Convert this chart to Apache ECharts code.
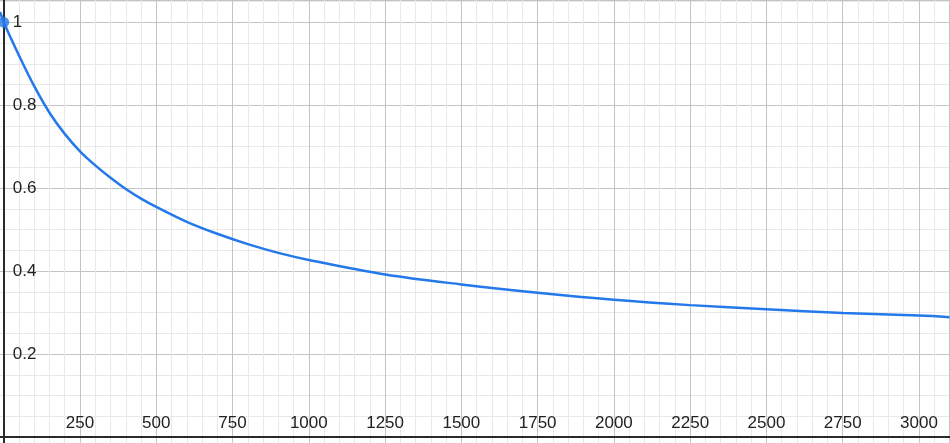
<!DOCTYPE html>
<html>
<head>
<meta charset="utf-8">
<script src="https://cdn.jsdelivr.net/npm/echarts@6/dist/echarts.min.js"></script>
<style>
html,body{margin:0;padding:0;background:#fff;}
#chart{width:950px;height:443px;}
</style>
</head>
<body>
<div id="chart"></div>
<script>
// Values
var xValues = [-12, 0, 50, 100, 150, 200, 250, 300, 350, 400, 450, 500, 600, 700, 800, 900, 1000, 1250, 1500, 1750, 2000, 2250, 2500, 2750, 3000, 3100];
var yValues = [1.025, 1.0, 0.92, 0.846, 0.782, 0.731, 0.689, 0.655, 0.625, 0.598, 0.575, 0.555, 0.519, 0.490, 0.465, 0.444, 0.427, 0.392, 0.368, 0.348, 0.331, 0.318, 0.308, 0.299, 0.293, 0.289];
var markedPoint = [0, 1];
var xTickStep = 250;
var yTickStep = 0.2;

var lineData = xValues.map(function (x, i) { return [x, yValues[i]]; });

// pixel geometry of the plotting frame
var pxPerX = 0.30509, x0px = 3.73;
var pxPerY = 414.7, y0px = 437;
var xMin = -250, xMax = 3100;
var yMin = -0.2, yMax = y0px / pxPerY;

var chart = echarts.init(document.getElementById('chart'), null, {renderer: 'canvas'});
var font = 'Liberation Sans, Arial, sans-serif';
chart.setOption({
  animation: false,
  backgroundColor: '#ffffff',
  grid: [
    {
      left: x0px + xMin * pxPerX,
      width: (xMax - xMin) * pxPerX,
      top: 0,
      height: (yMax - yMin) * pxPerY,
      containLabel: false,
      outerBoundsMode: 'none'
    },
    {
      left: x0px,
      width: xMax * pxPerX,
      top: 0,
      height: y0px,
      containLabel: false,
      outerBoundsMode: 'none'
    }
  ],
  xAxis: [
    {
      type: 'value', gridIndex: 0,
      min: xMin, max: xMax, interval: xTickStep,
      axisLine: {show: true, onZero: true, lineStyle: {color: '#2a2a2a', width: 2}},
      axisTick: {show: false},
      axisLabel: {show: false},
      splitLine: {show: true, lineStyle: {color: '#c4c4c4', width: 1}},
      minorTick: {show: false, splitNumber: 5},
      minorSplitLine: {show: true, lineStyle: {color: '#e9e9e9', width: 1}}
    },
    {
      type: 'value', gridIndex: 1,
      min: 0, max: xMax, interval: xTickStep,
      axisLine: {show: false, onZero: false},
      axisTick: {show: false},
      splitLine: {show: false},
      axisLabel: {
        inside: true, margin: 5, fontSize: 17, color: '#222', fontFamily: font,
        showMinLabel: false, showMaxLabel: false,
        formatter: function (v) { return (v <= 0 || Math.round(v) % 250 !== 0) ? '' : String(Math.round(v)); }
      }
    }
  ],
  yAxis: [
    {
      type: 'value', gridIndex: 0,
      min: yMin, max: yMax, interval: yTickStep,
      axisLine: {show: true, onZero: true, lineStyle: {color: '#2a2a2a', width: 2}},
      axisTick: {show: false},
      axisLabel: {show: false},
      splitLine: {show: true, lineStyle: {color: '#c4c4c4', width: 1}},
      minorTick: {show: false, splitNumber: 4},
      minorSplitLine: {show: true, lineStyle: {color: '#e9e9e9', width: 1}}
    },
    {
      type: 'value', gridIndex: 1,
      min: 0, max: yMax, interval: yTickStep,
      axisLine: {show: false, onZero: false},
      axisTick: {show: false},
      splitLine: {show: false},
      axisLabel: {
        inside: true, margin: 9, fontSize: 17, color: '#222', fontFamily: font,
        showMinLabel: false, showMaxLabel: false,
        formatter: function (v) { return (v <= 0.001 || v > 1.01) ? '' : String(+v.toFixed(1)); }
      }
    }
  ],
  series: [
    {
      type: 'line',
      xAxisIndex: 0, yAxisIndex: 0,
      data: lineData,
      smooth: 0.35,
      showSymbol: false,
      clip: true,
      lineStyle: {color: '#2479ea', width: 2.5},
      z: 5
    },
    {
      type: 'scatter',
      xAxisIndex: 0, yAxisIndex: 0,
      data: [markedPoint],
      symbol: 'circle',
      symbolSize: 11,
      itemStyle: {color: '#2479ea'},
      z: 6
    }
  ]
});
</script>
</body>
</html>
